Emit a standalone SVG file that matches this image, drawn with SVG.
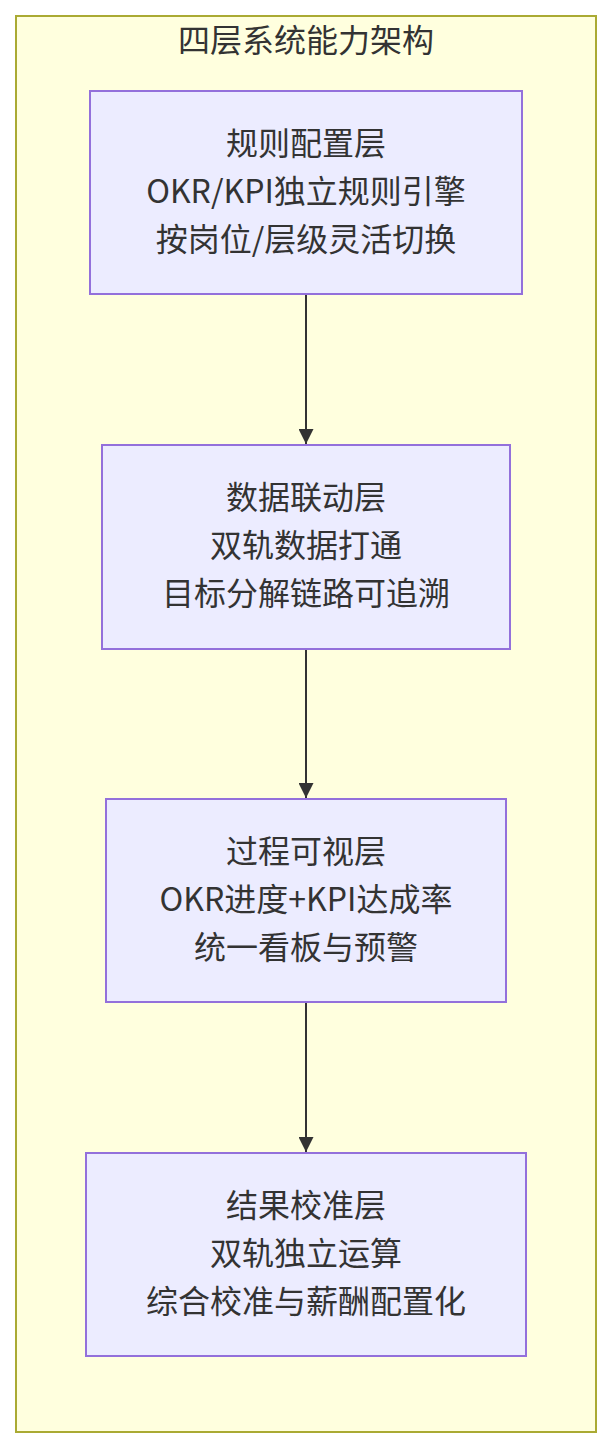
<svg xmlns="http://www.w3.org/2000/svg" width="612" height="1448" viewBox="0 0 612 1448">
<style>
.cluster{fill:#ffffde;stroke:#aaaa33;stroke-width:2}
.node{fill:#ececff;stroke:#9370db;stroke-width:2}
text{font-family:"Noto Sans CJK SC","Noto Sans",sans-serif;font-size:32px;fill:#333333;text-anchor:middle}
.edge{stroke:#333333;stroke-width:2;fill:none}
</style>
<defs>
<marker id="arrow" viewBox="0 0 10 10" refX="10" refY="5" markerUnits="userSpaceOnUse" markerWidth="15" markerHeight="15" orient="auto">
<path d="M0,0 L10,5 L0,10 z" fill="#333333"/>
</marker>
</defs>
<rect width="612" height="1448" fill="#ffffff"/>
<g id="cluster">
<rect class="cluster" x="16" y="16" width="580" height="1416"/>
<text x="306" y="52">四层系统能力架构</text>
</g>
<g id="edges">
<line class="edge" x1="306" y1="295" x2="306" y2="444" marker-end="url(#arrow)"/>
<line class="edge" x1="306" y1="649" x2="306" y2="798" marker-end="url(#arrow)"/>
<line class="edge" x1="306" y1="1003" x2="306" y2="1152" marker-end="url(#arrow)"/>
</g>
<g id="node1">
<rect class="node" x="90" y="91" width="432" height="203"/>
<text x="306" y="155">规则配置层</text>
<text x="306" y="203">OKR/KPI独立规则引擎</text>
<text x="306" y="251">按岗位/层级灵活切换</text>
</g>
<g id="node2">
<rect class="node" x="102" y="445" width="408" height="204"/>
<text x="306" y="509">数据联动层</text>
<text x="306" y="557">双轨数据打通</text>
<text x="306" y="605">目标分解链路可追溯</text>
</g>
<g id="node3">
<rect class="node" x="106" y="799" width="400" height="203"/>
<text x="306" y="863">过程可视层</text>
<text x="306" y="911">OKR进度+KPI达成率</text>
<text x="306" y="959">统一看板与预警</text>
</g>
<g id="node4">
<rect class="node" x="86" y="1153" width="440" height="203"/>
<text x="306" y="1217">结果校准层</text>
<text x="306" y="1265">双轨独立运算</text>
<text x="306" y="1313">综合校准与薪酬配置化</text>
</g>
</svg>
